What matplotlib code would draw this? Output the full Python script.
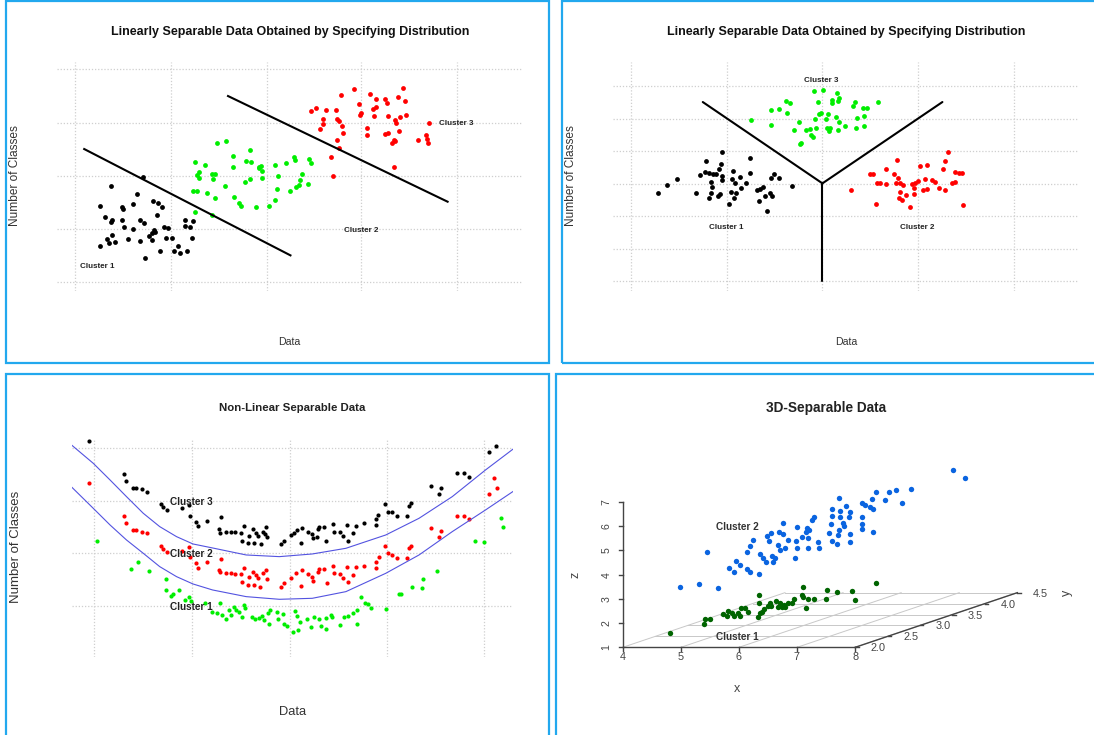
import matplotlib
matplotlib.use("Agg")
import matplotlib.pyplot as plt
from matplotlib.patches import Rectangle

W, H = 1094, 735
plt.rcParams["font.family"] = ["Liberation Sans", "DejaVu Sans"]

# ---------------------------------------------------------------------------
# Panel 1: linearly separable data, two separating lines
# ---------------------------------------------------------------------------
P1_BLACK_X = [4.09, 3.16, 3.91, 2.84, 3.48, 3.52, 3.78, 4.37, 4.50, 4.62, 2.99, 3.20, 3.16, 3.49, 4.00,
              4.10, 4.47, 3.54, 3.79, 4.67, 4.80, 5.27, 5.51, 5.28, 5.41, 4.40, 4.32, 4.43, 4.25, 3.20,
              3.05, 3.10, 3.29, 3.65, 3.99, 4.34, 4.74, 4.90, 5.47, 2.84, 5.08, 4.97, 5.12, 5.32, 4.55, 4.14]
P1_BLACK_Y = [4.70, 4.42, 4.17, 3.83, 3.80, 3.73, 3.87, 3.97, 3.90, 3.80, 3.50, 3.40, 3.35, 3.40, 3.40,
              3.32, 3.55, 3.20, 3.12, 3.20, 3.15, 3.40, 3.37, 3.22, 3.20, 3.10, 3.00, 3.05, 2.93, 2.95,
              2.82, 2.70, 2.74, 2.82, 2.78, 2.80, 2.87, 2.87, 2.87, 2.62, 2.63, 2.48, 2.40, 2.48, 2.48, 2.27]
P1_GREEN_X = [5.56, 5.83, 5.67, 5.61, 5.67, 6.03, 6.12, 6.06, 6.20, 6.45, 6.63, 6.64, 7.13, 7.00, 7.15,
              7.37, 7.45, 7.48, 7.39, 7.47, 7.12, 6.98, 7.83, 7.93, 8.15, 8.39, 8.40, 8.82, 8.86, 8.61,
              8.55, 8.52, 8.45, 8.78, 8.26, 7.91, 7.85, 7.66, 7.29, 6.86, 6.80, 6.67, 6.42, 6.14, 5.91,
              5.62, 5.50, 5.56, 6.03]
P1_GREEN_Y = [5.15, 5.05, 4.85, 4.75, 4.65, 4.77, 4.78, 4.64, 5.70, 5.78, 5.32, 4.98, 5.50, 5.18, 5.14,
              5.00, 5.03, 4.88, 4.95, 4.65, 4.62, 4.55, 5.05, 4.73, 5.10, 5.28, 5.20, 5.23, 5.12, 4.77,
              4.60, 4.45, 4.40, 4.49, 4.28, 4.32, 4.00, 3.82, 3.78, 3.82, 3.92, 4.10, 4.42, 4.07, 4.20,
              4.28, 4.28, 3.65, 3.55]
P1_RED_X = [10.08, 10.56, 10.73, 10.97, 11.02, 11.36, 11.50, 11.55, 9.71, 8.88, 9.00, 9.30, 9.57, 10.24,
            10.28, 10.25, 10.63, 10.72, 10.66, 11.07, 11.40, 11.58, 11.26, 9.22, 9.20, 9.12, 9.60, 9.67,
            9.75, 9.78, 10.45, 10.45, 10.97, 11.06, 11.37, 11.30, 11.22, 11.17, 11.27, 11.92, 12.15,
            12.18, 12.20, 12.22, 9.60, 9.65, 9.44, 9.50, 11.23]
P1_RED_Y = [7.32, 7.19, 7.02, 7.02, 6.92, 7.10, 7.35, 6.97, 7.15, 6.67, 6.75, 6.70, 6.70, 6.89, 6.62,
            6.54, 6.72, 6.78, 6.52, 6.52, 6.48, 6.55, 6.40, 6.42, 6.28, 6.12, 6.42, 6.37, 6.23, 6.01,
            6.15, 5.94, 5.97, 6.00, 6.08, 6.32, 5.80, 5.72, 5.76, 5.80, 5.95, 5.84, 5.72, 6.32, 5.80,
            5.56, 5.28, 4.73, 5.00]
P1_LINE_A_X, P1_LINE_A_Y = [2.40, 8.28], [5.53, 2.34]
P1_LINE_B_X, P1_LINE_B_Y = [6.50, 12.76], [7.12, 3.95]
P1_LABELS = [("Cluster 1", 2.78, 2.02), ("Cluster 2", 10.30, 3.10), ("Cluster 3", 13.00, 6.30)]

# ---------------------------------------------------------------------------
# Panel 2: three clusters split by a Y-shaped boundary
# ---------------------------------------------------------------------------
P2_BLACK_X = [2.99, 3.27, 3.56, 4.10, 4.39, 4.85, 4.82, 4.78, 5.68, 4.22, 4.37, 4.48, 4.60, 4.68, 4.87,
              4.87, 4.55, 4.56, 5.17, 5.14, 5.23, 5.38, 5.57, 5.41, 5.28, 5.13, 5.66, 4.54, 4.49, 4.73,
              4.80, 5.20, 5.07, 5.88, 5.97, 6.04, 6.12, 6.25, 6.32, 5.93, 6.16, 6.36, 6.27, 6.51, 6.90]
P2_BLACK_Y = [4.22, 4.45, 4.64, 4.20, 5.17, 5.44, 5.08, 4.92, 5.26, 4.75, 4.85, 4.80, 4.78, 4.78, 4.72,
              4.60, 4.55, 4.40, 4.87, 4.62, 4.50, 4.68, 4.52, 4.37, 4.22, 4.25, 4.80, 4.20, 4.07, 4.13,
              4.17, 4.05, 3.89, 4.30, 4.32, 4.40, 4.13, 4.22, 4.12, 3.96, 3.68, 4.78, 4.65, 4.67, 4.43]
P2_GREEN_X = [7.54, 7.80, 8.20, 8.27, 8.06, 8.07, 8.23, 7.64, 6.71, 6.84, 6.27, 6.53, 6.76, 5.70, 6.28,
              7.11, 6.94, 7.30, 7.42, 7.60, 7.55, 7.67, 7.75, 7.95, 7.87, 7.90, 7.97, 8.00, 8.18, 8.26,
              8.22, 8.44, 7.46, 7.52, 7.16, 7.12, 8.66, 8.73, 8.96, 9.07, 9.00, 8.78, 8.76, 8.99, 9.40]
P2_GREEN_Y = [7.28, 7.29, 7.21, 7.07, 7.00, 6.92, 6.98, 6.94, 6.97, 6.92, 6.70, 6.74, 6.60, 6.40, 6.24,
              6.35, 6.10, 6.10, 6.14, 6.15, 6.42, 6.57, 6.60, 6.57, 6.44, 6.17, 6.07, 6.15, 6.48, 6.35,
              6.10, 6.22, 5.96, 5.90, 5.70, 5.67, 6.82, 6.93, 6.75, 6.75, 6.53, 6.47, 6.15, 6.21, 6.94]
P2_RED_X = [8.62, 9.17, 9.25, 9.38, 9.45, 9.62, 9.64, 9.35, 9.94, 9.87, 9.97, 9.91, 10.03, 10.12, 10.04,
            10.00, 10.10, 10.22, 10.34, 10.40, 10.47, 10.55, 10.45, 10.44, 10.63, 10.81, 10.77, 10.72,
            10.83, 10.97, 11.06, 11.17, 11.35, 11.30, 11.36, 11.44, 11.55, 11.63, 11.65, 11.75, 11.84, 11.86]
P2_RED_Y = [4.30, 4.77, 4.77, 4.50, 4.50, 4.93, 4.49, 3.87, 5.20, 4.77, 4.67, 4.50, 4.50, 4.45, 4.25,
            4.06, 4.00, 4.14, 3.80, 4.48, 4.50, 4.58, 4.35, 4.18, 5.03, 5.04, 4.62, 4.30, 4.32, 4.60,
            4.53, 4.37, 4.30, 4.92, 5.18, 5.45, 4.50, 4.55, 4.83, 4.80, 4.80, 3.85]
P2_HUB = (7.78, 4.50)
P2_ENDS_X = [4.30, 11.27, 7.78]
P2_ENDS_Y = [6.94, 6.94, 1.56]
P2_LABELS = [("Cluster 3", 7.76, 7.59), ("Cluster 1", 4.97, 3.19), ("Cluster 2", 10.55, 3.19)]

# ---------------------------------------------------------------------------
# Panel 3: non-linear (curved) separation
# ---------------------------------------------------------------------------
P3_BLACK_X = [2.53, 3.55, 3.60, 3.80, 3.88, 4.04, 4.20, 4.60, 4.65, 4.77, 5.20, 5.40, 5.43, 5.60, 5.65,
              5.90, 6.32, 6.25, 6.28, 6.45, 6.60, 6.72, 6.88, 6.97, 6.90, 7.08, 7.12, 7.22, 7.24, 7.30,
              7.38, 7.45, 7.52, 7.60, 7.63, 7.58, 8.02, 8.12, 8.30, 8.40, 8.48, 8.60, 8.64, 8.80, 8.90,
              8.93, 9.08, 9.12, 9.05, 9.25, 9.32, 9.50, 9.55, 9.70, 9.80, 9.90, 9.93, 10.08, 10.18, 10.40,
              10.74, 10.75, 10.80, 11.00, 11.08, 11.20, 11.35, 11.63, 11.67, 11.75, 12.30, 12.55, 12.61,
              13.05, 13.25, 13.41, 13.98, 14.18]
P3_BLACK_Y = [7.86, 6.87, 6.67, 6.47, 6.45, 6.43, 6.35, 5.97, 5.90, 5.80, 5.87, 5.95, 5.63, 5.45, 5.32,
              5.48, 5.58, 5.22, 5.10, 5.14, 5.14, 5.13, 5.10, 5.33, 4.88, 4.82, 5.03, 5.22, 4.82, 5.10,
              5.02, 4.78, 5.15, 5.28, 5.00, 5.07, 4.77, 4.87, 5.05, 5.10, 5.20, 4.80, 5.26, 5.15, 5.07,
              4.95, 5.22, 5.30, 5.00, 5.30, 4.86, 5.38, 5.15, 5.13, 5.02, 5.35, 4.88, 5.10, 5.33, 5.40,
              5.35, 5.52, 5.65, 5.97, 5.75, 5.75, 5.62, 5.63, 5.93, 6.00, 6.52, 6.27, 6.45, 6.90, 6.90,
              6.80, 7.53, 7.72]
P3_RED_X = [2.53, 3.55, 3.60, 3.80, 3.88, 4.04, 4.20, 4.60, 4.65, 4.77, 5.20, 5.40, 5.43, 5.60, 5.65,
            5.90, 6.32, 6.25, 6.28, 6.45, 6.60, 6.72, 6.88, 6.97, 6.90, 7.08, 7.12, 7.22, 7.24, 7.30,
            7.38, 7.43, 7.52, 7.60, 7.63, 8.02, 8.12, 8.30, 8.45, 8.60, 8.64, 8.80, 8.90, 8.93, 9.08,
            9.12, 9.25, 9.34, 9.50, 9.55, 9.70, 9.80, 9.90, 9.95, 10.08, 10.18, 10.40, 10.74, 10.75,
            10.82, 11.00, 11.08, 11.20, 11.35, 11.63, 11.67, 11.75, 12.30, 12.55, 12.61, 13.05, 13.25,
            13.41, 13.98, 14.12, 14.20]
P3_RED_Y = [6.60, 5.62, 5.40, 5.20, 5.20, 5.15, 5.10, 4.72, 4.62, 4.55, 4.57, 4.70, 4.38, 4.20, 4.07,
            4.23, 4.32, 4.00, 3.93, 3.90, 3.90, 3.88, 3.88, 4.07, 3.63, 3.55, 3.78, 3.95, 3.55, 3.85,
            3.75, 3.50, 3.90, 4.00, 3.73, 3.50, 3.60, 3.75, 3.90, 3.52, 4.00, 3.87, 3.80, 3.68, 3.95,
            4.02, 4.02, 3.60, 4.12, 3.90, 3.88, 3.75, 4.08, 3.63, 3.85, 4.08, 4.13, 4.07, 4.25, 4.38,
            4.72, 4.50, 4.45, 4.35, 4.37, 4.67, 4.73, 5.25, 5.00, 5.18, 5.63, 5.63, 5.53, 6.27, 6.75, 6.45]
P3_GREEN_X = [2.78, 3.75, 3.95, 4.24, 4.73, 4.73, 4.88, 4.95, 5.12, 5.28, 5.40, 5.45, 5.85, 6.04, 6.20,
              6.28, 6.35, 6.45, 6.55, 6.60, 6.68, 6.75, 6.83, 6.90, 6.97, 7.00, 7.20, 7.28, 7.40, 7.48,
              7.55, 7.65, 7.68, 7.70, 7.90, 7.95, 8.08, 8.12, 8.20, 8.36, 8.43, 8.48, 8.52, 8.58, 8.78,
              8.87, 8.98, 9.12, 9.18, 9.30, 9.32, 9.45, 9.48, 9.70, 9.83, 9.93, 10.08, 10.20, 10.21, 10.30,
              10.43, 10.52, 10.60, 11.02, 11.40, 11.46, 11.78, 12.05, 12.08, 12.48, 13.58, 13.83, 14.32, 14.37]
P3_GREEN_Y = [4.86, 4.04, 4.24, 3.97, 3.72, 3.40, 3.22, 3.27, 3.40, 3.10, 3.20, 3.08, 3.00, 2.75, 2.70,
              3.00, 2.65, 2.52, 2.80, 2.65, 2.88, 2.80, 2.75, 2.60, 2.95, 2.85, 2.60, 2.52, 2.55, 2.62,
              2.50, 2.70, 2.38, 2.80, 2.75, 2.52, 2.67, 2.38, 2.32, 2.15, 2.78, 2.62, 2.20, 2.43, 2.52,
              2.30, 2.60, 2.52, 2.32, 2.55, 2.22, 2.65, 2.58, 2.35, 2.60, 2.63, 2.72, 2.80, 2.38, 3.20,
              3.00, 2.98, 2.85, 2.84, 3.28, 3.28, 3.50, 3.45, 3.72, 3.97, 4.88, 4.84, 5.55, 5.28]
P3_CURVE_X = [2.05, 2.66, 3.14, 3.61, 4.09, 4.56, 5.04, 5.51, 6.07, 7.03, 7.98, 8.92, 9.88, 11.02,
              11.97, 12.92, 13.87, 14.65]
P3_UPPER_Y = [7.74, 7.20, 6.70, 6.20, 5.70, 5.30, 5.00, 4.78, 4.66, 4.45, 4.40, 4.48, 4.65, 5.05,
              5.55, 6.20, 7.00, 7.62]
P3_LOWER_Y = [6.48, 5.85, 5.35, 4.90, 4.50, 4.10, 3.80, 3.58, 3.40, 3.20, 3.12, 3.15, 3.35, 3.90,
              4.45, 5.15, 5.80, 6.35]
P3_LABELS = [("Cluster 3", 4.85, 6.04), ("Cluster 2", 4.85, 4.48), ("Cluster 1", 4.85, 2.90)]

# ---------------------------------------------------------------------------
# Panel 4: 3D scatter, points given as their projected screen positions
# ---------------------------------------------------------------------------
P4_BLUE_X = [11.57, 11.92, 10.36, 9.91, 9.72, 9.33, 9.21, 9.60, 10.09, 8.26, 8.94, 9.02, 9.16, 9.26,
             8.47, 8.05, 8.29, 8.58, 8.05, 8.29, 8.55, 8.92, 7.52, 7.47, 8.03, 8.39, 8.42, 8.92, 8.92,
             9.26, 8.58, 8.27, 8.24, 7.97, 8.05, 8.21, 8.58, 7.66, 7.68, 7.37, 7.35, 7.39, 7.32, 7.29,
             7.03, 7.18, 7.00, 7.03, 6.99, 6.77, 6.69, 6.62, 6.52, 6.64, 6.50, 6.55, 6.28, 6.16, 6.22,
             6.32, 6.40, 6.35, 5.96, 6.06, 6.13, 5.75, 5.67, 5.59, 5.93, 5.67, 5.59, 5.38, 5.27, 5.21,
             5.06, 4.41, 3.64, 4.20, 4.75]
P4_BLUE_Y = [7.00, 6.77, 6.43, 6.40, 6.35, 6.35, 6.12, 6.10, 6.02, 6.15, 6.02, 5.95, 5.90, 5.83, 5.92,
             5.83, 5.77, 5.73, 5.63, 5.58, 5.60, 5.58, 5.60, 5.50, 5.37, 5.40, 5.33, 5.37, 5.23, 5.13,
             5.07, 5.20, 5.05, 5.10, 4.87, 4.78, 4.85, 4.83, 4.67, 4.95, 4.67, 5.20, 5.25, 5.15, 5.30,
             5.00, 4.87, 4.65, 4.37, 4.90, 4.65, 5.40, 5.15, 5.09, 4.75, 4.60, 5.10, 5.03, 4.87, 4.43,
             4.35, 4.23, 4.47, 4.35, 4.25, 4.91, 4.73, 4.53, 3.87, 3.95, 4.03, 4.15, 4.27, 3.95, 4.05,
             4.53, 3.50, 3.57, 3.45]
P4_GREEN_X = [3.35, 9.33, 7.21, 7.90, 8.20, 8.63, 8.73, 7.89, 7.18, 7.21, 7.35, 7.52, 7.30, 6.96, 6.89,
              6.77, 6.67, 6.55, 6.48, 6.42, 6.26, 6.29, 6.60, 5.94, 5.94, 6.09, 6.03, 5.97, 5.90, 5.53,
              5.61, 5.41, 5.32, 5.22, 5.16, 5.02, 4.90, 5.38, 4.51, 4.35, 4.32, 5.00, 6.69, 6.21]
P4_GREEN_Y = [2.10, 3.60, 3.50, 3.40, 3.33, 3.37, 3.10, 3.12, 3.25, 3.18, 3.12, 3.12, 2.87, 3.12, 3.00,
              3.00, 2.95, 3.00, 2.90, 3.08, 3.00, 2.92, 2.90, 3.25, 3.00, 2.82, 2.75, 2.70, 2.60, 2.85,
              2.75, 2.85, 2.70, 2.62, 2.72, 2.78, 2.68, 2.62, 2.52, 2.52, 2.38, 2.63, 2.88, 2.92]
P4_X_TICKS = [4, 5, 6, 7, 8]
P4_Y_TICKS = [2.0, 2.5, 3.0, 3.5, 4.0, 4.5]
P4_Z_TICKS = [1, 2, 3, 4, 5, 6, 7]
P4_LABELS = [("Cluster 2", 5.30, 5.28), ("Cluster 1", 5.30, 2.00)]

BORDER = "#22a8ee"
GRID = "#cfcfcf"
GREEN = "#00ee00"
RED = "#ff0000"

fig = plt.figure(figsize=(W / 100, H / 100), dpi=100)


def px_axes(x0, y0, x1, y1):
    return fig.add_axes([x0 / W, 1 - y1 / H, (x1 - x0) / W, (y1 - y0) / H])


def px_text(x, y, s, **kw):
    fig.text(x / W, 1 - y / H, s, ha="center", va="center", **kw)


def border(x0, y0, x1, y1):
    fig.patches.append(Rectangle((x0 / W, 1 - y1 / H), (x1 - x0) / W, (y1 - y0) / H,
                                 transform=fig.transFigure, fill=False,
                                 edgecolor=BORDER, linewidth=1.6, zorder=0))


def grid_axes(box, xlim, ylim, gx, gy):
    ax = px_axes(*box)
    ax.set_xlim(xlim)
    ax.set_ylim(ylim)
    ax.set_xticks(gx)
    ax.set_yticks(gy)
    ax.tick_params(length=0, labelbottom=False, labelleft=False)
    for s in ax.spines.values():
        s.set_visible(False)
    ax.grid(True, color=GRID, linestyle=(0, (1, 1.5)), linewidth=0.9)
    ax.set_axisbelow(True)
    ax.patch.set_alpha(0)
    return ax


for box in [(5.5, 1, 548.5, 362.5), (562, 1, 1098, 362.5),
            (5.5, 373.5, 548.5, 738), (555.5, 373.5, 1098, 738)]:
    border(*box)

# --- panel 1 ---
ax1 = grid_axes((57.2, 61.7, 521.6, 290.7), (1.63, 14.87), (1.28, 8.15),
                [2.15, 4.87, 7.60, 10.30, 13.03], [1.55, 3.14, 4.73, 6.32, 7.92])
ax1.scatter(P1_BLACK_X, P1_BLACK_Y, s=12, color="black", linewidths=0)
ax1.scatter(P1_GREEN_X, P1_GREEN_Y, s=12, color=GREEN, linewidths=0)
ax1.scatter(P1_RED_X, P1_RED_Y, s=12, color=RED, linewidths=0)
ax1.plot(P1_LINE_A_X, P1_LINE_A_Y, color="black", lw=1.5)
ax1.plot(P1_LINE_B_X, P1_LINE_B_Y, color="black", lw=1.5)
for s, x, y in P1_LABELS:
    ax1.text(x, y, s, ha="center", va="center", fontsize=5.8, fontweight="bold", color="#222222")
px_text(289.7, 32.3, "Linearly Separable Data Obtained by Specifying Distribution",
        fontsize=9, fontweight="bold", color="#111111")
px_text(289.7, 341.7, "Data", fontsize=7.6, color="#333333")
px_text(14.7, 175.7, "Number of Classes", fontsize=8.6, rotation=90, color="#333333")

# --- panel 2 ---
ax2 = grid_axes((613.4, 61.7, 1077.5, 290.7), (1.70, 15.20), (1.28, 8.15),
                [2.22, 5.00, 7.78, 10.57, 13.35], [1.56, 2.54, 3.51, 4.49, 5.47, 6.44, 7.42])
ax2.scatter(P2_BLACK_X, P2_BLACK_Y, s=12, color="black", linewidths=0)
ax2.scatter(P2_GREEN_X, P2_GREEN_Y, s=12, color=GREEN, linewidths=0)
ax2.scatter(P2_RED_X, P2_RED_Y, s=12, color=RED, linewidths=0)
for ex, ey in zip(P2_ENDS_X, P2_ENDS_Y):
    ax2.plot([P2_HUB[0], ex], [P2_HUB[1], ey], color="black", lw=1.5, solid_capstyle="round")
for s, x, y in P2_LABELS:
    ax2.text(x, y, s, ha="center", va="center", fontsize=5.8, fontweight="bold", color="#222222")
px_text(846.2, 32.3, "Linearly Separable Data Obtained by Specifying Distribution",
        fontsize=9, fontweight="bold", color="#111111")
px_text(846.2, 341.7, "Data", fontsize=7.6, color="#333333")
px_text(570.5, 175.7, "Number of Classes", fontsize=8.6, rotation=90, color="#333333")

# --- panel 3 ---
ax3 = grid_axes((71.9, 439.3, 512.8, 657.3), (2.05, 14.65), (1.38, 7.92),
                [2.68, 5.47, 8.27, 11.05, 13.84], [2.93, 4.52, 6.08, 7.67])
ax3.scatter(P3_BLACK_X, P3_BLACK_Y, s=9, color="black", linewidths=0)
ax3.scatter(P3_RED_X, P3_RED_Y, s=9, color=RED, linewidths=0)
ax3.scatter(P3_GREEN_X, P3_GREEN_Y, s=9, color=GREEN, linewidths=0)
ax3.plot(P3_CURVE_X, P3_UPPER_Y, color="#5353e0", lw=0.8)
ax3.plot(P3_CURVE_X, P3_LOWER_Y, color="#5353e0", lw=0.8)
for s, x, y in P3_LABELS:
    ax3.text(x, y, s, ha="left", va="center", fontsize=7.2, fontweight="bold", color="#222222")
px_text(292.2, 408.3, "Non-Linear Separable Data", fontsize=8.2, fontweight="bold", color="#222222")
px_text(292.2, 711.7, "Data", fontsize=9.3, color="#333333")
px_text(15.8, 546.7, "Number of Classes", fontsize=9.5, rotation=90, color="#333333")

# --- panel 4: oblique projection of the 3D box, in screen units ---
ax4 = px_axes(555, 370, 1094, 735)
ax4.set_xlim(0, 15.68)
ax4.set_ylim(-0.95, 10.0)
ax4.axis("off")


def proj(x, y, z):
    return (1.97 + 1.69 * (x - 4) + 1.888 * (y - 2), 1.68 + 0.727 * (z - 1) + 0.656 * (y - 2))


AX_COL = "#444444"
for xv in P4_X_TICKS:
    (a, b), (c, d) = proj(xv, P4_Y_TICKS[0], 1), proj(xv, P4_Y_TICKS[-1], 1)
    ax4.plot([a, c], [b, d], color="#c8c8c8", lw=0.7)
for yv in P4_Y_TICKS:
    (a, b), (c, d) = proj(P4_X_TICKS[0], yv, 1), proj(P4_X_TICKS[-1], yv, 1)
    ax4.plot([a, c], [b, d], color="#c8c8c8", lw=0.7)

# z axis
(a, b), (c, d) = proj(4, 2, P4_Z_TICKS[0]), proj(4, 2, P4_Z_TICKS[-1])
ax4.plot([a, c], [b, d], color=AX_COL, lw=1)
for zv in P4_Z_TICKS:
    px, py = proj(4, 2, zv)
    ax4.plot([px - 0.12, px], [py, py], color=AX_COL, lw=1)
    ax4.text(1.50, py, str(zv), rotation=90, ha="center", va="center", fontsize=7.6, color=AX_COL)
# x axis
(a, b), (c, d) = proj(P4_X_TICKS[0], 2, 1), proj(P4_X_TICKS[-1], 2, 1)
ax4.plot([a, c], [b, d], color=AX_COL, lw=1)
for xv in P4_X_TICKS:
    px, py = proj(xv, 2, 1)
    ax4.plot([px, px], [py, py - 0.12], color=AX_COL, lw=1)
    ax4.text(px, 1.40, str(xv), ha="center", va="center", fontsize=7.8, color=AX_COL)
# y axis
(a, b), (c, d) = proj(8, P4_Y_TICKS[0], 1), proj(8, P4_Y_TICKS[-1], 1)
ax4.plot([a, c], [b, d], color=AX_COL, lw=1)
for yv in P4_Y_TICKS:
    px, py = proj(8, yv, 1)
    ax4.plot([px, px + 0.1], [py, py], color=AX_COL, lw=1)
    ax4.text(px + 0.67, py - 0.03, f"{yv:.1f}", ha="center", va="center", fontsize=7.8, color=AX_COL)

ax4.scatter(P4_BLUE_X, P4_BLUE_Y, s=15, color="#0a64e0", linewidths=0, zorder=3)
ax4.scatter(P4_GREEN_X, P4_GREEN_Y, s=15, color="#006400", linewidths=0, zorder=3)
for s, x, y in P4_LABELS:
    ax4.text(x, y, s, ha="center", va="center", fontsize=7.2, fontweight="bold", color="#333333", zorder=4)
ax4.text(5.30, 0.42, "x", ha="center", va="center", fontsize=9, color=AX_COL)
ax4.text(14.90, 3.30, "y", ha="center", va="center", fontsize=9, rotation=90, color=AX_COL)
ax4.text(0.60, 3.85, "z", ha="center", va="center", fontsize=9, rotation=90, color=AX_COL)
px_text(825.9, 408.3, "3D-Separable Data", fontsize=9.8, fontweight="bold", color="#222222")

fig.savefig("out.png", dpi=100, facecolor="white")
